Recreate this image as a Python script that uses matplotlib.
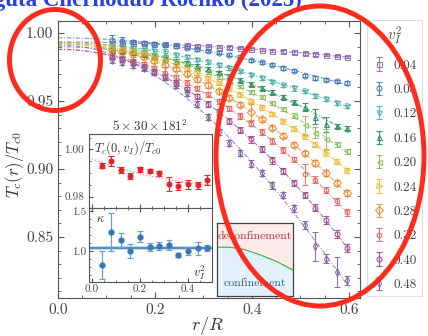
import matplotlib
matplotlib.use("Agg")
import matplotlib.pyplot as plt
import numpy as np
from matplotlib.patches import Ellipse
from matplotlib.ticker import MultipleLocator, FormatStrFormatter

plt.rcParams["font.family"] = "serif"
plt.rcParams["font.serif"] = ["cmr10", "DejaVu Serif"]
plt.rcParams["mathtext.fontset"] = "cm"
plt.rcParams["axes.formatter.use_mathtext"] = True
plt.rcParams["axes.unicode_minus"] = False

W, H = 428, 336  # output size in pixels

# --- main panel data: T_c(r)/T_c0 vs r/R for several v_I^2
r_over_R = [0.1105, 0.1326, 0.1547, 0.1768, 0.1989, 0.2210, 0.2431, 0.2652,
            0.2873, 0.3094, 0.3315, 0.3536, 0.3757, 0.3978, 0.4199, 0.4420,
            0.4641, 0.4862, 0.5083, 0.5304, 0.5525, 0.5746, 0.5967]

vi2_labels = ["0.04", "0.08", "0.12", "0.16", "0.20",
              "0.24", "0.28", "0.32", "0.40", "0.48"]

tc_004 = [0.9929, 0.9928, 0.9926, 0.9923, 0.9921, 0.9918, 0.9915, 0.9911, 0.9907, 0.9903, 0.9899, 0.9894,
          0.9889, 0.9884, 0.9878, 0.9870, 0.9864, 0.9858, 0.9850, 0.9843, 0.9838, 0.9831, 0.9824]
tc_008 = [0.9946, 0.9942, 0.9936, 0.9929, 0.9921, 0.9913, 0.9903, 0.9892, 0.9881, 0.9868, 0.9855, 0.9840,
          0.9825, 0.9800, 0.9785, 0.9767, 0.9743, 0.9723, 0.9685, 0.9670, 0.9657, 0.9645, 0.9632]
tc_012 = [0.9905, 0.9898, 0.9890, 0.9880, 0.9868, 0.9855, 0.9840, 0.9823, 0.9805, 0.9785, 0.9764, 0.9742,
          0.9719, 0.9694, 0.9669, 0.9643, 0.9615, 0.9592, 0.9570, 0.9538, 0.9515, 0.9486, 0.9460]
tc_016 = [0.9876, 0.9868, 0.9857, 0.9845, 0.9831, 0.9815, 0.9797, 0.9778, 0.9757, 0.9735, 0.9710, 0.9683,
          0.9656, 0.9627, 0.9597, 0.9564, 0.9531, 0.9495, 0.9458, 0.9385, 0.9328, 0.9316, 0.9300]
tc_020 = [0.9901, 0.9891, 0.9876, 0.9860, 0.9841, 0.9820, 0.9796, 0.9771, 0.9742, 0.9712, 0.9679, 0.9643,
          0.9607, 0.9567, 0.9527, 0.9484, 0.9440, 0.9392, 0.9320, 0.9268, 0.9218, 0.9182, 0.9130]
tc_024 = [0.9890, 0.9877, 0.9861, 0.9842, 0.9819, 0.9795, 0.9767, 0.9737, 0.9704, 0.9669, 0.9630, 0.9589,
          0.9547, 0.9500, 0.9454, 0.9403, 0.9351, 0.9295, 0.9240, 0.9179, 0.9119, 0.9054, 0.8990]
tc_028 = [0.9878, 0.9863, 0.9844, 0.9822, 0.9795, 0.9766, 0.9733, 0.9699, 0.9659, 0.9618, 0.9572, 0.9524,
          0.9474, 0.9420, 0.9365, 0.9305, 0.9245, 0.9179, 0.9114, 0.9042, 0.8972, 0.8895, 0.8820]
tc_032 = [0.9830, 0.9814, 0.9793, 0.9769, 0.9740, 0.9709, 0.9673, 0.9635, 0.9592, 0.9548, 0.9498, 0.9445,
          0.9391, 0.9332, 0.9273, 0.9207, 0.9142, 0.9070, 0.8960, 0.8922, 0.8845, 0.8762, 0.8680]
tc_040 = [0.9825, 0.9806, 0.9780, 0.9750, 0.9715, 0.9677, 0.9633, 0.9587, 0.9534, 0.9480, 0.9420, 0.9355,
          0.9289, 0.9217, 0.9144, 0.9064, 0.8984, 0.8897, 0.8810, 0.8715, 0.8622, 0.8520, 0.8420]
tc_048 = [0.9800, 0.9785, 0.9765, 0.9740, 0.9710, 0.9675, 0.9620, 0.9560, 0.9480, 0.9380, 0.9270, 0.9190,
          0.9115, 0.9040, 0.8970, 0.8880, 0.8810, 0.8710, 0.8590, 0.8430, 0.8340, 0.8240, 0.8180]

err_004 = [0.0012, 0.0011, 0.0009, 0.0008, 0.0008, 0.0009, 0.0009, 0.0010, 0.0008, 0.0009, 0.0012, 0.0009,
           0.0008, 0.0009, 0.0010, 0.0009, 0.0010, 0.0009, 0.0010, 0.0009, 0.0008, 0.0009, 0.0010]
err_008 = [0.0040, 0.0032, 0.0016, 0.0012, 0.0010, 0.0010, 0.0012, 0.0010, 0.0011, 0.0010, 0.0012, 0.0010,
           0.0011, 0.0012, 0.0010, 0.0011, 0.0012, 0.0013, 0.0011, 0.0012, 0.0010, 0.0011, 0.0012]
err_012 = [0.0015, 0.0013, 0.0012, 0.0011, 0.0012, 0.0025, 0.0013, 0.0012, 0.0011, 0.0013, 0.0012, 0.0014,
           0.0012, 0.0013, 0.0012, 0.0014, 0.0013, 0.0015, 0.0013, 0.0014, 0.0013, 0.0015, 0.0014]
err_016 = [0.0014, 0.0012, 0.0013, 0.0012, 0.0013, 0.0012, 0.0014, 0.0013, 0.0012, 0.0014, 0.0013, 0.0015,
           0.0013, 0.0014, 0.0015, 0.0014, 0.0016, 0.0015, 0.0030, 0.0055, 0.0055, 0.0016, 0.0015]
err_020 = [0.0015, 0.0014, 0.0013, 0.0014, 0.0013, 0.0015, 0.0014, 0.0013, 0.0015, 0.0014, 0.0016, 0.0015,
           0.0014, 0.0016, 0.0015, 0.0017, 0.0016, 0.0018, 0.0068, 0.0040, 0.0074, 0.0020, 0.0018]
err_024 = [0.0016, 0.0015, 0.0014, 0.0015, 0.0016, 0.0015, 0.0014, 0.0016, 0.0015, 0.0017, 0.0016, 0.0015,
           0.0017, 0.0016, 0.0018, 0.0017, 0.0019, 0.0018, 0.0020, 0.0019, 0.0021, 0.0020, 0.0019]
err_028 = [0.0017, 0.0016, 0.0018, 0.0016, 0.0017, 0.0018, 0.0016, 0.0018, 0.0017, 0.0019, 0.0018, 0.0017,
           0.0019, 0.0060, 0.0018, 0.0020, 0.0019, 0.0021, 0.0020, 0.0022, 0.0021, 0.0023, 0.0022]
err_032 = [0.0018, 0.0017, 0.0019, 0.0017, 0.0018, 0.0040, 0.0018, 0.0019, 0.0018, 0.0020, 0.0019, 0.0018,
           0.0020, 0.0019, 0.0021, 0.0020, 0.0022, 0.0021, 0.0080, 0.0023, 0.0022, 0.0024, 0.0023]
err_040 = [0.0018, 0.0019, 0.0018, 0.0020, 0.0019, 0.0021, 0.0020, 0.0019, 0.0021, 0.0022, 0.0020, 0.0022,
           0.0021, 0.0023, 0.0022, 0.0024, 0.0023, 0.0025, 0.0024, 0.0026, 0.0030, 0.0028, 0.0027]
err_048 = [0.0019, 0.0020, 0.0019, 0.0021, 0.0020, 0.0022, 0.0021, 0.0020, 0.0022, 0.0023, 0.0021, 0.0023,
           0.0022, 0.0024, 0.0023, 0.0025, 0.0024, 0.0026, 0.0028, 0.0110, 0.0035, 0.0110, 0.0030]

colors = ["#8C6BB1", "#3F7CB5", "#4CB3A8", "#2B8B5A", "#8CBF5F",
          "#F0B92E", "#EB8A2E", "#E2665F", "#A2488C", "#7E64A6"]
markers = ["s", "o", "v", "^", "<", ">", "D", "h", "o", "d"]

# --- inset data: T_c(0, v_I)/T_c0 and kappa vs v_I^2
vi2_inset = [0.04, 0.08, 0.12, 0.16, 0.20, 0.24, 0.28, 0.32, 0.36, 0.40, 0.44, 0.48]
tc0_inset = [0.9931, 0.9952, 0.9913, 0.9887, 0.9916, 0.9907, 0.9898, 0.9852, 0.9846, 0.9852, 0.9848, 0.9870]
tc0_err = [0.0010, 0.0022, 0.0013, 0.0013, 0.0011, 0.0009, 0.0012, 0.0030, 0.0017, 0.0020, 0.0016, 0.0020]
kappa = [0.825, 1.241, 1.1375, 1.0, 1.18, 1.054, 1.0625, 1.075, 0.95, 1.004, 1.034, 1.034]
kappa_err = [0.17, 0.24, 0.09, 0.09, 0.07, 0.05, 0.05, 0.06, 0.03, 0.05, 0.08, 0.04]
kappa_mean = 1.0375
kappa_mean_err = 0.02

# --- phase sketch boundary (box-relative units)
phase_x = [0.0, 0.17, 0.35, 0.57, 0.79, 1.0]
phase_y = [0.668, 0.668, 0.64, 0.562, 0.47, 0.355]


def px_axes(fig, left, top, right, bottom):
    """Add axes given pixel edges measured from the top-left corner."""
    return fig.add_axes([left / W, 1 - bottom / H, (right - left) / W, (bottom - top) / H])


def style_frame(ax, color="#555555"):
    for sp in ax.spines.values():
        sp.set_color(color)
        sp.set_linewidth(0.8)
    ax.tick_params(which="both", direction="in", colors=color, labelcolor="#444444")


fig = plt.figure(figsize=(W / 100, H / 100), dpi=100)
fig.patch.set_facecolor("white")

# ---------------- main panel
ax = px_axes(fig, 58, 20.5, 360, 298)
series = list(zip([tc_004, tc_008, tc_012, tc_016, tc_020, tc_024, tc_028, tc_032, tc_040, tc_048],
                  [err_004, err_008, err_012, err_016, err_020, err_024, err_028, err_032, err_040, err_048],
                  colors, markers, vi2_labels))
r = np.array(r_over_R)
r_fine = np.linspace(0.0, 0.6, 200)
handles = []
for tc, err, col, mk, lab in series:
    coef = np.polyfit(r ** 2, np.array(tc), 2)
    ax.plot(r_fine, np.polyval(coef, r_fine ** 2), color=col, lw=0.8, alpha=0.75,
            dashes=(4, 1.5, 1, 1.5), zorder=2)
    h = ax.errorbar(r, tc, yerr=err, fmt=mk, color=col, mfc="none", mec=col, ms=3.6,
                    mew=0.8, elinewidth=0.8, capsize=2.0, capthick=0.8, alpha=0.9, zorder=3)
    handles.append(h)

ax.set_xlim(0.0, 0.6227)
ax.set_ylim(0.8051, 1.0092)
ax.xaxis.set_major_locator(MultipleLocator(0.2))
ax.xaxis.set_minor_locator(MultipleLocator(0.05))
ax.yaxis.set_major_locator(MultipleLocator(0.05))
ax.yaxis.set_minor_locator(MultipleLocator(0.01))
ax.xaxis.set_major_formatter(FormatStrFormatter("%.1f"))
ax.yaxis.set_major_formatter(FormatStrFormatter("%.2f"))
style_frame(ax)
ax.tick_params(which="both", top=True, right=True, labelsize=11)
ax.tick_params(which="major", length=4)
ax.tick_params(which="minor", length=2)

fig.text(15 / W, 1 - 165 / H, r"$T_c(r)/T_{c0}$", rotation=90, ha="center", va="center",
         fontsize=12, color="#333333")
fig.text(207 / W, 1 - 326 / H, r"$r/R$", ha="center", va="center", fontsize=13, color="#333333")

# ---------------- inset 1: T_c(0, v_I)/T_c0
ax1 = px_axes(fig, 89, 134, 212, 207.5)
ax1.set_facecolor("white")
v = np.array(vi2_inset)
coef1 = np.polyfit(v, np.array(tc0_inset), 2)
v_fine = np.linspace(0.0, 0.5, 100)
ax1.plot(v_fine, np.polyval(coef1, v_fine), color="#F08080", lw=0.9, ls=":", zorder=2)
ax1.errorbar(v, tc0_inset, yerr=tc0_err, fmt="o", color="#E0262B", ms=3.3,
             elinewidth=0.8, capsize=2.2, capthick=0.8, zorder=3)
ax1.set_xlim(-0.0125, 0.5)
ax1.set_ylim(0.9754, 1.0065)
ax1.set_yticks([0.98, 1.00])
ax1.yaxis.set_major_formatter(FormatStrFormatter("%.2f"))
ax1.yaxis.set_minor_locator(MultipleLocator(0.005))
ax1.xaxis.set_major_locator(MultipleLocator(0.2))
ax1.xaxis.set_minor_locator(MultipleLocator(0.05))
style_frame(ax1)
ax1.tick_params(which="both", labelsize=8, labelbottom=False)
ax1.tick_params(which="major", length=3)
ax1.tick_params(which="minor", length=1.5)
ax1.text(0.04, 0.93, r"$T_c(0,v_I)/T_{c0}$", transform=ax1.transAxes, ha="left", va="top",
         fontsize=9, color="#333333")
fig.text(150 / W, 1 - 126 / H, r"$5\times30\times181^2$", ha="center", va="center",
         fontsize=9.5, color="#333333")

# ---------------- inset 2: kappa
ax2 = px_axes(fig, 89, 207.5, 212, 282)
ax2.set_facecolor("white")
ax2.axhspan(kappa_mean - kappa_mean_err, kappa_mean + kappa_mean_err, color="#A9CBEA", alpha=0.7,
            lw=0, zorder=1)
ax2.axhline(kappa_mean, color="#3A78B5", lw=1.1, zorder=2)
ax2.errorbar(v, kappa, yerr=kappa_err, fmt="o", color="#3A78B5", ecolor="#6A9FD0", ms=3.5,
             elinewidth=0.9, capsize=2.2, capthick=0.9, zorder=3)
ax2.set_xlim(-0.0125, 0.5)
ax2.set_ylim(0.6125, 1.544)
ax2.set_yticks([1.0, 1.5])
ax2.yaxis.set_major_formatter(FormatStrFormatter("%.1f"))
ax2.yaxis.set_minor_locator(MultipleLocator(0.1))
ax2.xaxis.set_major_locator(MultipleLocator(0.2))
ax2.xaxis.set_minor_locator(MultipleLocator(0.05))
ax2.xaxis.set_major_formatter(FormatStrFormatter("%.1f"))
style_frame(ax2)
ax2.tick_params(which="both", top=True, labelsize=8, pad=2)
ax2.tick_params(which="major", length=3)
ax2.tick_params(which="minor", length=1.5)
ax2.text(0.06, 0.85, r"$\kappa$", transform=ax2.transAxes, ha="left", va="center",
         fontsize=9, color="#333333")
ax2.text(0.95, 0.12, r"$v_I^2$", transform=ax2.transAxes, ha="right", va="center",
         fontsize=9, color="#333333")

# ---------------- inset 3: phase sketch
ax3 = px_axes(fig, 217, 223, 293, 296)
ax3.set_xlim(0, 1)
ax3.set_ylim(0, 1)
ax3.fill_between(phase_x, phase_y, 1.0, color="#FDEAEA", lw=0)
ax3.fill_between(phase_x, 0.0, phase_y, color="#E3F1FC", lw=0)
ax3.plot(phase_x, phase_y, color="#4CB84C", lw=0.9)
ax3.set_xticks([])
ax3.set_yticks([])
for sp in ax3.spines.values():
    sp.set_color("#444444")
    sp.set_linewidth(0.9)
ax3.text(0.5, 0.82, "deconfinement", ha="center", va="center", fontsize=8.5,
         color="#B3343A", fontweight="bold")
ax3.text(0.5, 0.18, "confinement", ha="center", va="center", fontsize=8.5,
         color="#2F5E8E", fontweight="bold")

# ---------------- legend
leg = fig.legend(handles, vi2_labels, loc="upper left", bbox_to_anchor=(367 / W, 1 - 20 / H),
                 title=r"$v_I^2$", fontsize=9.5, title_fontsize=11, frameon=True,
                 fancybox=False, edgecolor="#D5D5D5", borderaxespad=0, borderpad=0.4,
                 labelspacing=0.92, handlelength=1.0, handletextpad=0.6)
leg.get_frame().set_linewidth(0.8)
for t in leg.get_texts():
    t.set_color("#444444")
leg.get_title().set_color("#444444")

# ---------------- header text (cut by the top edge) and red annotation ellipses
fig.text(302 / W, 1 - 6 / H, "Braguta Chernodub Roenko (2025)", ha="right", va="baseline",
         fontsize=16.5, fontweight="bold", color="#2742E0", family="Liberation Serif")

ov = fig.add_axes([0, 0, 1, 1], zorder=10)
ov.set_xlim(0, W)
ov.set_ylim(H, 0)
ov.axis("off")
ov.patch.set_alpha(0)
ov.add_patch(Ellipse((55, 60), 91, 101, fill=False, ec="#FF2B1C", lw=3.6))
ov.add_patch(Ellipse((320, 156), 208, 300, fill=False, ec="#FF2B1C", lw=3.6))

fig.savefig("out.png", dpi=100)
